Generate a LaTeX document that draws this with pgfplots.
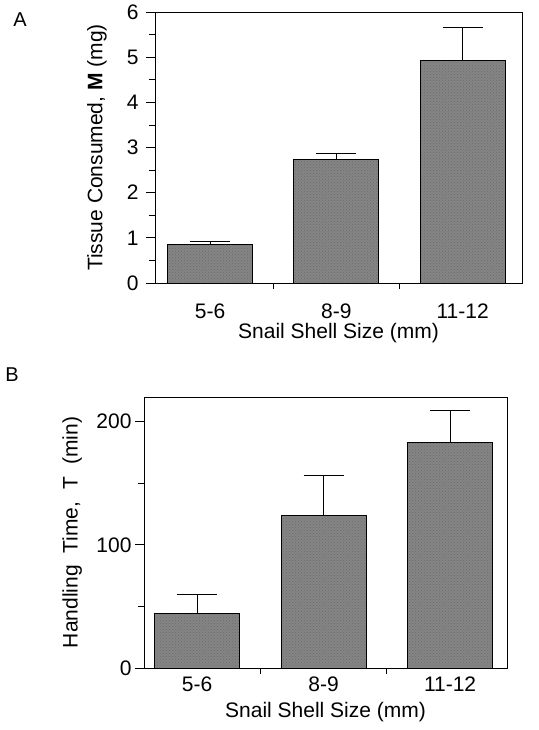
\documentclass[border=0pt]{standalone}
\usepackage{pgfplots}
\pgfplotsset{compat=1.18}
\usepackage{fontspec}
\setmainfont{Liberation Sans}
\usetikzlibrary{patterns}
\pgfplotstableread{
x y err
0 0.86 0.06
1 2.73 0.13
2 4.92 0.73
}\dataA
\pgfplotstableread{
x y err
0 44.5 15
1 124 32
2 183 26
}\dataB
\pgfplotsset{
  snail/.style={
    scale only axis,
    axis line style={line width=0.9pt},
    every tick/.style={black,line width=0.8pt},
    tick align=outside,
    xtick pos=bottom, ytick pos=left,
    xtick={0,1,2},
    xticklabels={5-6,8-9,11-12},
    major x tick style={draw=none},
    minor xtick={0.5,1.5},
    major tick length=9pt,
    minor tick length=6pt,
    ymin=0,
    ybar, bar width=85pt, bar shift=0pt,
    ticklabel style={font=\fontsize{21}{24}\selectfont},
    label style={font=\fontsize{21}{24}\selectfont},
    /pgf/number format/assume math mode=true,
    xlabel={Snail Shell Size (mm)},
  },
  snailbar/.style={draw=black, line width=0.9pt, fill=black!48,
    postaction={pattern=crosshatch dots, pattern color=black!58},
    error bars/.cd, y dir=plus, y explicit,
    error bar style={line width=0.9pt,black},
    error mark options={rotate=90, line width=0.9pt, mark size=20pt, black}},
}
\begin{document}
\begin{tikzpicture}
\useasboundingbox (0,0) rectangle (538pt,730pt);
\node[font=\fontsize{20}{22}\selectfont] at (20pt,710pt) {A};
\node[font=\fontsize{20}{22}\selectfont] at (12pt,355pt) {B};
\begin{axis}[snail,
  at={(155pt,447pt)}, anchor=south west,
  width=367pt, height=271pt,
  xmin=-0.437, xmax=2.47,
  ymax=6, ytick={0,1,...,6}, minor ytick={0.5,1.5,...,5.5},
  ylabel={Tissue Consumed, \textbf{M} (mg)},
  ylabel style={at={(axis description cs:-0.158,0.5)}, anchor=center},
  yticklabel style={xshift=-4pt},
  xticklabel style={anchor=center, yshift=-19pt},
  xlabel style={at={(axis description cs:0.5,0)}, anchor=center, yshift=-50pt},
]
\addplot[snailbar] table[x=x,y=y,y error=err] {\dataA};
\end{axis}
\begin{axis}[snail,
  at={(144pt,62pt)}, anchor=south west,
  width=363pt, height=271pt,
  xmin=-0.42, xmax=2.45,
  ymax=220, ytick={0,100,200}, minor ytick={50,150},
  ylabel={Handling\hspace{12pt}Time,\hspace{12pt}T\hspace{12pt}(min)},
  ylabel style={at={(axis description cs:-0.198,0.5)}, anchor=center},
  xticklabel style={anchor=center, yshift=-7pt},
  xlabel style={at={(axis description cs:0.5,0)}, anchor=center, yshift=-44pt},
]
\addplot[snailbar] table[x=x,y=y,y error=err] {\dataB};
\end{axis}
\end{tikzpicture}
\end{document}
